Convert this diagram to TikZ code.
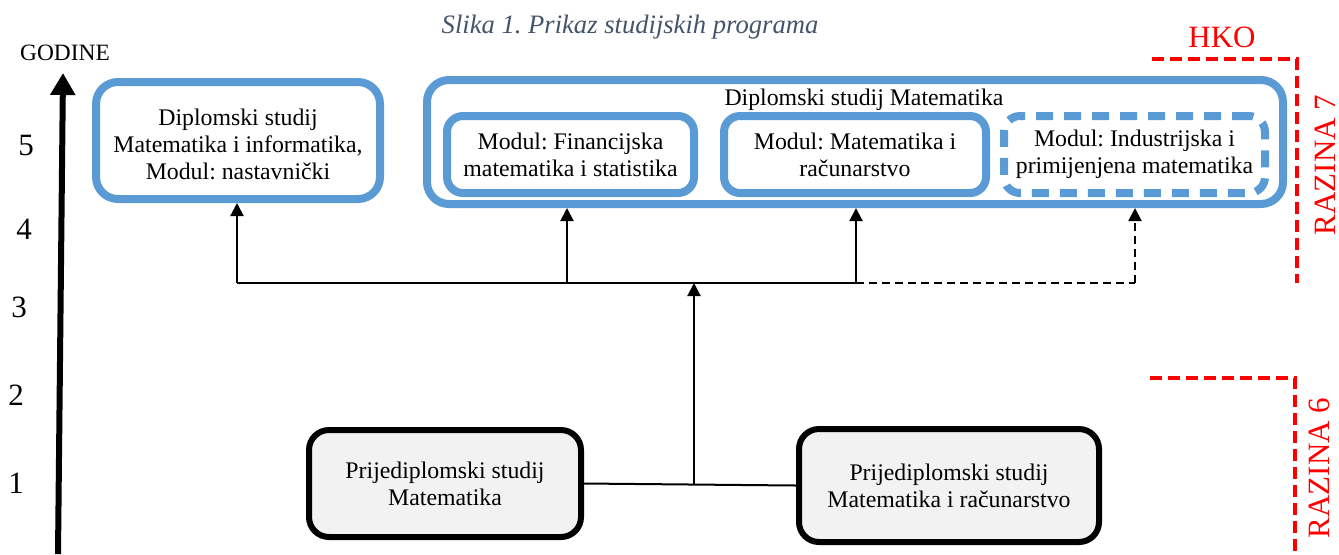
\documentclass[tikz,border=0pt]{standalone}
\usepackage{fontspec}
\setmainfont{Liberation Serif}
\usetikzlibrary{arrows.meta}
\definecolor{boxblue}{HTML}{5B9BD5}
\definecolor{capgrey}{HTML}{44546A}
\definecolor{fillgrey}{HTML}{F2F2F2}
\definecolor{hkored}{HTML}{FF0000}
\frenchspacing
\begin{document}
\begin{tikzpicture}[x=0.5pt,y=-0.5pt,
  txt/.style={font=\fontsize{11.9}{13.5}\selectfont, align=center, inner sep=0pt},
  bluebox/.style={draw=boxblue, line width=4pt, rounded corners=11pt, txt},
  modbox/.style={draw=boxblue, line width=4pt, rounded corners=8pt, txt},
  dashmod/.style={modbox, dash pattern=on 8.5pt off 5.5pt},
  basebox/.style={draw=black, fill=fillgrey, line width=3pt, rounded corners=10pt, txt},
  conn/.style={line width=1pt},
  connarrow/.style={conn, -{Triangle[width=6.5pt,length=6.5pt]}},
  conndash/.style={conn, dash pattern=on 4pt off 2.5pt},
  axisarrow/.style={line width=3pt, -{Triangle[width=12pt,length=11pt]}},
  yearlbl/.style={font=\fontsize{15.5}{16}\selectfont, inner sep=0pt},
  redline/.style={draw=hkored, line width=2pt, dash pattern=on 6pt off 3pt},
  redlbl/.style={text=hkored, font=\fontsize{15.5}{16}\selectfont, inner sep=0pt}
]
\path[use as bounding box] (0,0) rectangle (1339,554);

% caption
\node[text=capgrey, font=\fontsize{13.3}{15}\selectfont\itshape, inner sep=0pt] (cap) at (630,27) {Slika 1. Prikaz studijskih programa};

% axis
\coordinate (axb) at (58,554);
\coordinate (axt) at (63,73);
\draw[axisarrow] (axb) -- (axt);
\node[font=\fontsize{11.7}{13}\selectfont, inner sep=0pt] (god) at (65,53) {GODINE};
\node[yearlbl] (y5) at (26,145) {5};
\node[yearlbl] (y4) at (24,229) {4};
\node[yearlbl] (y3) at (19,307) {3};
\node[yearlbl] (y2) at (16,395) {2};
\node[yearlbl] (y1) at (16,483) {1};

% graduate boxes
\node[bluebox, minimum width=142pt, minimum height=58.5pt] (dmi) at (238,140.5) {};
\node[txt] (dmitxt) at (238,144) {Diplomski studij\\Matematika i informatika,\\Modul: nastavnički};

\node[bluebox, minimum width=428pt, minimum height=62pt] (dm) at (855,142) {};
\node[txt] (dmtxt) at (864,100) {Diplomski studij Matematika};

\node[modbox, minimum width=123.5pt, minimum height=38.5pt] (fin) at (570.5,154.5) {Modul: Financijska\\matematika i statistika};
\node[modbox, minimum width=131pt, minimum height=38.5pt] (mr) at (855,154.5) {Modul: Matematika i\\računarstvo};
\node[dashmod, minimum width=130.5pt, minimum height=38.5pt] (ind) at (1134.5,154.5) {Modul: Industrijska i\\primijenjena matematika};

% undergraduate boxes
\node[basebox, minimum width=136pt, minimum height=53.5pt] (pm) at (445,483.5) {Prijediplomski studij\\Matematika};
\node[basebox, minimum width=150pt, minimum height=56.5pt] (pmr) at (949,485.5) {Prijediplomski studij\\Matematika i računarstvo};

% connectors
\coordinate (j) at (694,484);
\coordinate (h) at (694,283);
\coordinate (hl) at (237,283);
\coordinate (hf) at (567,283);
\coordinate (hm) at (856,283);
\coordinate (hi) at (1135,283);
\draw[conn] (pm.east) -- (pmr.west);
\draw[connarrow] (j) -- (h);
\draw[conn] (hl) -- (hm);
\draw[conndash] (hm) -- (hi);
\draw[connarrow] (hl) -- (hl |- dmi.south);
\draw[connarrow] (hf) -- (hf |- dm.south);
\draw[connarrow] (hm) -- (hm |- dm.south);
\draw[conndash, -{Triangle[width=6.5pt,length=6.5pt]}] (hi) -- (hi |- dm.south);

% HKO levels
\node[redlbl] (hko) at (1222,37) {HKO};
\coordinate (r7a) at (1152,59);
\coordinate (r7b) at (1297,59);
\coordinate (r7c) at (1297,283);
\draw[redline] (r7a) -- (r7b) -- (r7c);
\node[redlbl, rotate=90] (raz7) at (1325,165) {RAZINA 7};
\coordinate (r6a) at (1150,378);
\coordinate (r6b) at (1295,378);
\coordinate (r6c) at (1295,554);
\draw[redline] (r6a) -- (r6b) -- (r6c);
\node[redlbl, rotate=90] (raz6) at (1319,468) {RAZINA 6};
\end{tikzpicture}
\end{document}
